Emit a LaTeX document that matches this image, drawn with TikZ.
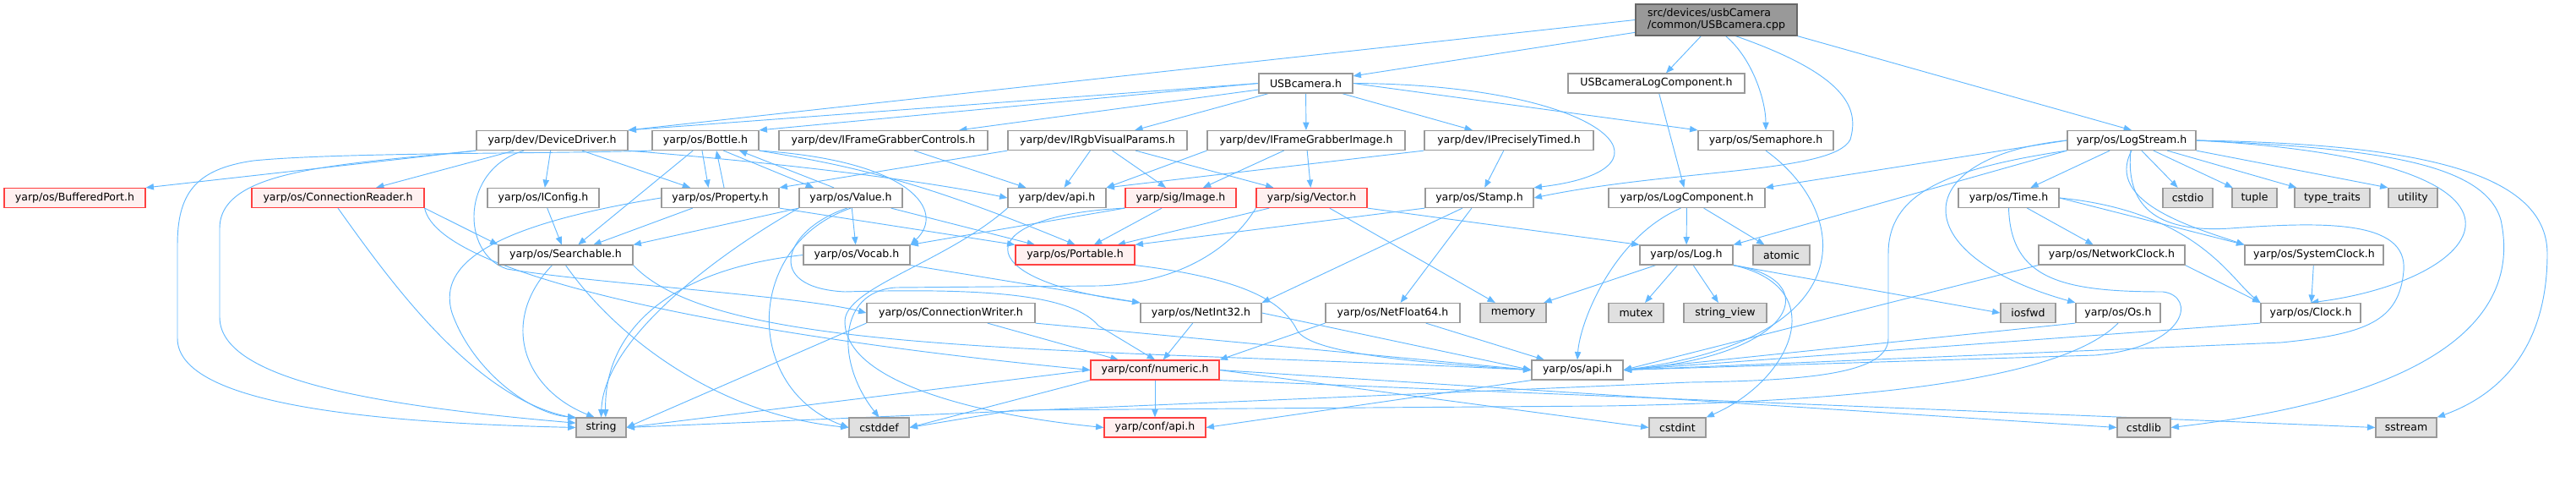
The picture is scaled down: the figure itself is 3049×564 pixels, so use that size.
\documentclass[tikz,border=0pt]{standalone}
\usepackage{fontspec}
\setmainfont{DejaVu Sans}
\usetikzlibrary{arrows.meta,positioning,backgrounds}
\definecolor{edgeB}{RGB}{99,184,255}
\definecolor{boxG}{RGB}{153,153,153}
\definecolor{rootG}{RGB}{102,102,102}
\definecolor{sysF}{RGB}{224,224,224}
\definecolor{redF}{RGB}{255,240,240}
\definecolor{redB}{RGB}{255,64,64}

\begin{document}
\begin{tikzpicture}[x=0.75pt,y=-0.75pt,
  box/.style={draw=boxG,fill=white,line width=0.9pt,inner sep=0pt,minimum height=17.25pt,
    font=\fontsize{9.4}{10.5}\selectfont},
  hdr/.style={box},
  trunc/.style={box,draw=redB,fill=redF},
  sys/.style={box,fill=sysF},
  wd/.style={minimum width=#1*0.75pt},
  dep/.style={draw=edgeB,line width=0.7pt,-{Triangle[length=7pt,width=5.5pt]}}]
\useasboundingbox (0,0) rectangle (3049,564);
% row 0 and 1
\node[box,fill=boxG,draw=rootG,wd=191,minimum height=27.75pt,align=left] (src) at (2031.5,23.5) {src/devices/usbCamera\\/common/USBcamera.cpp};
\node[hdr,wd=111] (usbcam) at (1545.5,98.5) {USBcamera.h};
\node[hdr,wd=209] (usblog) at (1960.5,98.5) {USBcameraLogComponent.h};
% row 2
\node[hdr,wd=179] (devdrv) at (653.5,166) {yarp/dev/DeviceDriver.h};
\node[hdr,wd=126] (bottle) at (835,166) {yarp/os/Bottle.h};
\node[hdr,wd=247] (fgctrl) at (1045.5,166) {yarp/dev/IFrameGrabberControls.h};
\node[hdr,wd=212] (rgbvis) at (1299,166) {yarp/dev/IRgbVisualParams.h};
\node[hdr,wd=234] (fgimg) at (1546,166) {yarp/dev/IFrameGrabberImage.h};
\node[hdr,wd=200] (ptimed) at (1786,166) {yarp/dev/IPreciselyTimed.h};
\node[hdr,wd=160] (sema) at (2090,166) {yarp/os/Semaphore.h};
\node[hdr,wd=152] (logstr) at (2523,166) {yarp/os/LogStream.h};
% row 3
\node[trunc,wd=167] (bport) at (88.5,234) {yarp/os/BufferedPort.h};
\node[trunc,wd=204] (creader) at (400,234) {yarp/os/ConnectionReader.h};
\node[hdr,wd=132] (iconfig) at (643,234) {yarp/os/IConfig.h};
\node[hdr,wd=139] (prop) at (852.5,234) {yarp/os/Property.h};
\node[hdr,wd=122] (value) at (1007,234) {yarp/os/Value.h};
\node[hdr,wd=116] (devapi) at (1251,234) {yarp/dev/api.h};
\node[trunc,wd=131] (image) at (1397.5,234) {yarp/sig/Image.h};
\node[trunc,wd=131] (vector) at (1552.5,234) {yarp/sig/Vector.h};
\node[hdr,wd=128] (stamp) at (1751,234) {yarp/os/Stamp.h};
\node[hdr,wd=185] (logcomp) at (1996.5,234) {yarp/os/LogComponent.h};
\node[hdr,wd=119] (time) at (2377.5,234) {yarp/os/Time.h};
\node[sys,wd=59] (cstdio) at (2589.5,234) {cstdio};
\node[sys,wd=53] (tuple) at (2668.5,234) {tuple};
\node[sys,wd=89] (typetr) at (2760.5,234) {type\_traits};
\node[sys,wd=58] (utility) at (2856,234) {utility};
% row 4
\node[hdr,wd=159] (search) at (669.5,301.5) {yarp/os/Searchable.h};
\node[hdr,wd=126] (vocab) at (1014,301.5) {yarp/os/Vocab.h};
\node[trunc,wd=141] (portable) at (1272.5,301.5) {yarp/os/Portable.h};
\node[hdr,wd=110] (log) at (1996,301.5) {yarp/os/Log.h};
\node[sys,wd=67] (atomic) at (2108.5,301.5) {atomic};
\node[hdr,wd=173] (netclk) at (2499.5,301.5) {yarp/os/NetworkClock.h};
\node[hdr,wd=164] (sysclk) at (2739,301.5) {yarp/os/SystemClock.h};
% row 5
\node[hdr,wd=199] (cwriter) at (1125.5,370) {yarp/os/ConnectionWriter.h};
\node[hdr,wd=143] (netint) at (1421.5,370) {yarp/os/NetInt32.h};
\node[hdr,wd=159] (netflt) at (1648.5,370) {yarp/os/NetFloat64.h};
\node[sys,wd=78] (memory) at (1791,370) {memory};
\node[sys,wd=65] (mutex) at (1936.5,370) {mutex};
\node[sys,wd=98] (strview) at (2042,370) {string\_view};
\node[sys,wd=65] (iosfwd) at (2400.5,370) {iosfwd};
\node[hdr,wd=100] (os) at (2507,370) {yarp/os/Os.h};
\node[hdr,wd=118] (clock) at (2735,370) {yarp/os/Clock.h};
% row 6 and 7
\node[trunc,wd=152] (numeric) at (1367,437.5) {yarp/conf/numeric.h};
\node[hdr,wd=108] (osapi) at (1867,437.5) {yarp/os/api.h};
\node[sys,wd=59] (string) at (711.5,505.5) {string};
\node[sys,wd=71] (cstddef) at (1040.5,505.5) {cstddef};
\node[trunc,wd=120] (confapi) at (1367,505.5) {yarp/conf/api.h};
\node[sys,wd=67] (cstdint) at (1985.5,505.5) {cstdint};
\node[sys,wd=63] (cstdlib) at (2537.5,505.5) {cstdlib};
\node[sys,wd=72] (sstream) at (2848,505.5) {sstream};

\begin{scope}[on background layer]
% source file
\draw[dep] (src) -- (usbcam);
\draw[dep] (src.west) -- (devdrv.north east);
\draw[dep] (src) -- (usblog);
\draw[dep] (src.-60) .. controls (2075,70) and (2090,120) .. (sema.north);
\draw[dep] (src.-40) .. controls (2190,90) and (2200,130) .. (2190,165) .. controls (2170,205) and (1980,200) .. (stamp.east);
\draw[dep] (src.south east) -- (logstr.north);
% USBcamera.h
\draw[dep] (usbcam.west) -- (devdrv.north east);
\draw[dep] (usbcam.west) -- (bottle.north east);
\draw[dep] (usbcam) -- (fgctrl);
\draw[dep] (usbcam) -- (rgbvis);
\draw[dep] (usbcam) -- (fgimg);
\draw[dep] (usbcam) -- (ptimed);
\draw[dep] (usbcam.east) -- (sema.north west);
\draw[dep] (usbcam.east) .. controls (1900,100) and (2000,200) .. (stamp.north east);
\draw[dep] (usblog) -- (logcomp);
% DeviceDriver.h
\draw[dep] (devdrv.south west) -- (bport.north east);
\draw[dep] (devdrv) -- (creader);
\draw[dep] (devdrv) -- (iconfig);
\draw[dep] (devdrv) -- (prop);
\draw[dep] (devdrv.south east) .. controls (950,195) and (1100,215) .. (devapi.west);
\draw[dep] ([xshift=-25pt]devdrv.south) .. controls (545,200) and (545,300) .. (600,318) .. controls (700,335) and (950,350) .. (cwriter.west);
\draw[dep] (devdrv.south west) .. controls (400,195) and (260,200) .. (260,270) -- (260,375) .. controls (260,450) and (450,480) .. (string.170);
% Bottle.h
\draw[dep] (bottle.south west) .. controls (650,182) and (400,180) .. (300,190) .. controls (230,200) and (210,230) .. (210,290) -- (210,400) .. controls (210,480) and (450,500) .. (string.west);
\draw[dep] ([xshift=-3pt]bottle.south) -- ([xshift=-10.5pt]prop.north);
\draw[dep] ([xshift=16pt]bottle.south) -- ([xshift=-33pt]value.north);
\draw[dep] (bottle) -- (search);
\draw[dep] (bottle.south east) .. controls (1000,195) and (1080,210) .. (portable.north);
\draw[dep] (bottle.south east) .. controls (1080,190) and (1120,250) .. (vocab.north east);
% Property.h, Value.h
\draw[dep] ([xshift=3.4pt]prop.north) -- ([xshift=9.75pt]bottle.south);
\draw[dep] (prop) -- (search);
\draw[dep] (prop.west) .. controls (560,270) and (520,320) .. (535,370) .. controls (560,440) and (630,490) .. (string.north west);
\draw[dep] (prop.south east) -- (portable.north west);
\draw[dep] ([xshift=-15pt]value.north) -- ([xshift=30pt]bottle.south);
\draw[dep] (value.south west) -- (search.north east);
\draw[dep] (value) -- (vocab);
\draw[dep] (value) -- (portable);
\draw[dep] (value.south west) .. controls (850,300) and (715,400) .. (string.north);
\draw[dep] (value.south) .. controls (880,290) and (880,460) .. (cstddef.west);
\draw[dep] (value.-110) .. controls (930,270) and (900,340) .. (1000,345) .. controls (1180,340) and (1270,350) .. (1300,385) -- (numeric.north);
% IConfig.h, ConnectionReader.h, Searchable.h, Vocab.h
\draw[dep] (iconfig) -- (search);
\draw[dep] (creader.south east) -- (search.north west);
\draw[dep] (creader.south) .. controls (460,330) and (560,470) .. (string.160);
\draw[dep] (creader.south east) .. controls (520,330) and (900,400) .. (numeric.west);
\draw[dep] ([xshift=-12pt]search.south) .. controls (590,380) and (620,460) .. ([xshift=-6pt]string.north);
\draw[dep] (search.south) .. controls (730,400) and (850,490) .. (cstddef.west);
\draw[dep] (search.south east) .. controls (850,420) and (1250,410) .. (osapi.west);
\draw[dep] (vocab.west) .. controls (780,320) and (715,400) .. ([xshift=4pt]string.north);
\draw[dep] (vocab.south east) -- (netint.north west);
% yarp/dev headers
\draw[dep] (devapi.south west) .. controls (1120,310) and (1000,340) .. (1000,380) .. controls (1000,450) and (1150,490) .. (confapi.west);
\draw[dep] (fgctrl) -- (devapi);
\draw[dep] (rgbvis.south west) -- (prop.north east);
\draw[dep] (rgbvis) -- (devapi);
\draw[dep] (rgbvis) -- (image);
\draw[dep] (rgbvis) -- (vector);
\draw[dep] (fgimg.south west) -- (devapi.north east);
\draw[dep] (fgimg) -- (image);
\draw[dep] (fgimg) -- (vector);
\draw[dep] (ptimed.south west) -- (devapi.north east);
\draw[dep] (ptimed) -- (stamp);
% yarp/sig headers, Stamp.h
\draw[dep] (image) -- (portable);
\draw[dep] (image.south west) -- (vocab.north east);
\draw[dep] (image.south west) .. controls (1150,255) and (1140,330) .. (netint.north west);
\draw[dep] (vector) -- (portable);
\draw[dep] (vector.south east) -- (log.north west);
\draw[dep] (vector) -- (memory);
\draw[dep] (vector.south west) .. controls (1460,290) and (1400,335) .. (1300,338) -- (1060,340) .. controls (990,345) and (990,430) .. (cstddef.north);
\draw[dep] (stamp.south west) -- (portable.north east);
\draw[dep] ([xshift=-15pt]stamp.south) -- (netint.north east);
\draw[dep] (stamp) -- (netflt);
\draw[dep] (portable.south east) .. controls (1480,330) and (1520,360) .. (1535,390) .. controls (1550,420) and (1700,430) .. (osapi.west);
% LogComponent.h, Log.h, Semaphore.h
\draw[dep] (logcomp) -- (log);
\draw[dep] (logcomp) -- (atomic);
\draw[dep] (logcomp.-120) .. controls (1910,280) and (1870,380) .. (osapi.north);
\draw[dep] (log) -- (memory);
\draw[dep] (log) -- (mutex);
\draw[dep] (log) -- (strview);
\draw[dep] (log.south east) -- (iosfwd.west);
\draw[dep] (log.south east) .. controls (2160,330) and (2130,420) .. (osapi.east);
\draw[dep] (log.south east) .. controls (2170,340) and (2120,450) .. (cstdint.north east);
\draw[dep] (sema.south) .. controls (2190,250) and (2210,400) .. (osapi.east);
% LogStream.h
\draw[dep] (logstr.west) -- (logcomp.north east);
\draw[dep] (logstr.south west) -- (log.north east);
\draw[dep] (logstr) -- (time);
\draw[dep] (logstr) -- (cstdio);
\draw[dep] (logstr) -- (tuple);
\draw[dep] (logstr) -- (typetr);
\draw[dep] (logstr.south east) -- (utility.north west);
\draw[dep] (logstr.south) .. controls (2490,240) and (2600,270) .. (sysclk.north west);
\draw[dep] (logstr.east) .. controls (3050,190) and (2950,330) .. (clock.north);
\draw[dep] (logstr.west) .. controls (2260,185) and (2250,300) .. (os.north west);
\draw[dep] (logstr.east) .. controls (2800,175) and (2940,190) .. (2960,260) .. controls (2975,330) and (2960,460) .. (cstdlib.east);
\draw[dep] (logstr.east) .. controls (2850,170) and (3015,200) .. (3015,300) .. controls (3015,420) and (2950,470) .. (sstream.north east);
\draw[dep] (logstr.-95) .. controls (2515,250) and (2560,275) .. (2640,270) .. controls (2750,262) and (2850,260) .. (2845,320) .. controls (2840,380) and (2800,395) .. (2700,405) -- (osapi.east);
\draw[dep] (logstr.south west) .. controls (2300,200) and (2235,230) .. (2235,300) -- (2235,400) .. controls (2235,440) and (2150,450) .. (2000,452) -- (string.east);
% Time.h and clocks
\draw[dep] (time) -- (netclk);
\draw[dep] (time.east) -- (sysclk.north west);
\draw[dep] (time.east) .. controls (2600,250) and (2640,330) .. (clock.north west);
\draw[dep] (time.south) .. controls (2380,330) and (2440,345) .. (2560,345) .. controls (2600,350) and (2590,410) .. (2480,420) -- (osapi.east);
\draw[dep] (netclk.south east) -- (clock.north west);
\draw[dep] (netclk.south west) -- (osapi.east);
\draw[dep] (sysclk) -- (clock);
\draw[dep] (clock.south west) -- (osapi.east);
\draw[dep] (os.south west) -- (osapi.east);
\draw[dep] (os.south) .. controls (2440,450) and (2200,475) .. (1900,480) -- (1200,485) -- (cstddef.east);
% net types, writer, numeric
\draw[dep] (netint) -- (numeric);
\draw[dep] (netint.east) -- (osapi.west);
\draw[dep] (netflt.south west) -- (numeric.north east);
\draw[dep] (netflt) -- (osapi);
\draw[dep] (cwriter) -- (numeric);
\draw[dep] (cwriter.south east) -- (osapi.west);
\draw[dep] (cwriter.south west) -- (string.east);
\draw[dep] (numeric) -- (confapi);
\draw[dep] (numeric.south west) -- (cstddef.east);
\draw[dep] (numeric.west) -- (string.east);
\draw[dep] (numeric.east) -- (cstdint.west);
\draw[dep] (numeric.east) -- (cstdlib.west);
\draw[dep] (numeric.south east) -- (sstream.west);
\draw[dep] (osapi.south west) -- (confapi.east);
\end{scope}
\end{tikzpicture}
\end{document}
